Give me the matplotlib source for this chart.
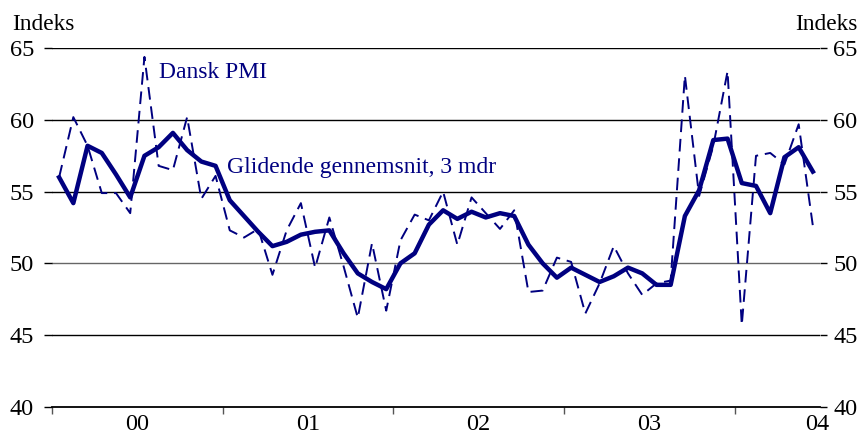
import matplotlib.pyplot as plt
import numpy as np

# Dansk PMI, månedlig jan 2000 - jun 2004
pmi = [56.0, 60.2, 58.2, 54.9, 54.9, 53.5, 64.4, 56.8, 56.5, 60.2, 54.5, 56.1,
       52.3, 51.8, 52.4, 49.2, 52.3, 54.2, 49.7, 53.2, 49.8, 46.2, 51.4, 46.7,
       51.6, 53.4, 53.0, 55.0, 51.3, 54.6, 53.5, 52.4, 53.7, 48.0, 48.1, 50.4,
       50.1, 46.5, 48.6, 51.2, 49.3, 47.8, 48.6, 48.8, 63.1, 54.7, 58.2, 63.4,
       45.7, 57.5, 57.7, 56.9, 59.7, 52.6]
# glidende gennemsnit, 3 mdr
ma3 = [56.0, 54.2, 58.2, 57.7, 56.2, 54.6, 57.5, 58.1, 59.1, 57.9, 57.1, 56.8,
       54.4, 53.3, 52.2, 51.2, 51.5, 52.0, 52.2, 52.3, 50.7, 49.3, 48.7, 48.2,
       50.0, 50.7, 52.7, 53.7, 53.1, 53.6, 53.2, 53.5, 53.3, 51.3, 50.0, 49.0,
       49.7, 49.2, 48.7, 49.1, 49.7, 49.3, 48.5, 48.5, 53.3, 55.1, 58.6, 58.7,
       55.6, 55.4, 53.5, 57.4, 58.1, 56.4]
years = ['00', '01', '02', '03', '04']
yticks = [40, 45, 50, 55, 60, 65]

navy = '#000080'
plt.rcParams['font.family'] = ['Liberation Serif', 'DejaVu Serif']

fig = plt.figure(figsize=(8.6, 4.38), dpi=100)
ax = fig.add_axes([52/860, 1-406.7/438, 768/860, (406.7-48.3)/438])

x = np.arange(len(pmi))
for y in yticks[1:]:
    ax.axhline(y, color='#666666' if y == 50 else 'black', lw=1.0, zorder=1)

ax.plot(x, pmi, color=navy, lw=1.4, ls=(0, (6.5, 3.5)), zorder=3)
ax.plot(x, ma3, color=navy, lw=3.2, zorder=4)

ax.set_xlim(-0.5, 53.5)
ax.set_ylim(40, 65)

for s in ['top', 'left', 'right']:
    ax.spines[s].set_visible(False)
ax.spines['bottom'].set_linewidth(1.3)

ax.set_yticks(yticks)
ax.tick_params(axis='y', left=True, right=False, labelleft=True,
               labelright=False, direction='out', length=6, width=1.0,
               labelsize=17.5, pad=7)

# højre akse
ax2 = ax.twinx()
ax2.set_ylim(40, 65)
ax2.set_yticks(yticks)
for s in ['top', 'left', 'right', 'bottom']:
    ax2.spines[s].set_visible(False)
ax2.tick_params(axis='y', right=True, labelright=True, direction='out',
                length=5, width=1.0, labelsize=17.5, pad=4.5)

year_pos = [-0.5, 11.5, 23.5, 35.5, 47.5]
ax.set_xticks(year_pos)
ax.set_xticklabels([])
ax.set_xticks([5.5, 17.5, 29.5, 41.5, 53.3], minor=True)
ax.set_xticklabels(years, minor=True)
ax.tick_params(axis='x', which='major', direction='out', length=5, width=1.0,
               color='#555555')
ax.tick_params(axis='x', which='minor', length=0, labelsize=17.5, pad=5.5)

fig.text(12/860, 1-24/438, 'Indeks', fontsize=16.8, va='center', ha='left')
fig.text(858/860, 1-24/438, 'Indeks', fontsize=16.8, va='center', ha='right')

ax.text(7, 63.3, 'Dansk PMI', color=navy, fontsize=17, va='center', ha='left')
ax.text(11.8, 56.7, 'Glidende gennemsnit, 3 mdr', color=navy, fontsize=17,
        va='center', ha='left')

fig.savefig('out.png', dpi=100)
